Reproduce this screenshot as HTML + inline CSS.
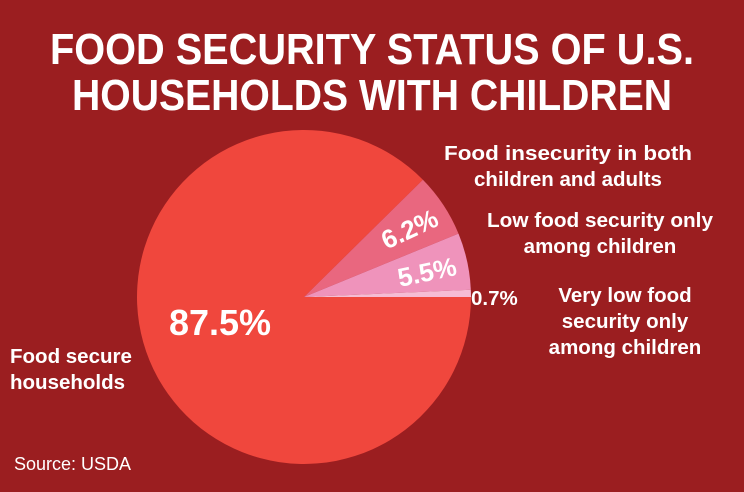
<!DOCTYPE html>
<html><head><style>
body{margin:0;width:744px;height:487px;background:#9b1e20;overflow:hidden;font-family:"Liberation Sans",sans-serif;}
</style></head><body>
<svg width="744" height="487" xmlns="http://www.w3.org/2000/svg">
<rect width="744" height="487" fill="#9b1e20"/>
<g font-family="Liberation Sans, sans-serif" font-weight="bold" fill="#fff">
<text x="372" y="64" font-size="44" text-anchor="middle" textLength="644" lengthAdjust="spacingAndGlyphs">FOOD SECURITY STATUS OF U.S.</text>
<text x="372" y="110" font-size="44" text-anchor="middle" textLength="600" lengthAdjust="spacingAndGlyphs">HOUSEHOLDS WITH CHILDREN</text>
</g>
<path d="M304,297 L422.9,179.7 A167,167 0 1 0 471,297 Z" fill="#f0473d"/>
<path d="M304,297 L458.5,233.6 A167,167 0 0 0 422.9,179.7 Z" fill="#e9677f"/>
<path d="M304,297 L470.8,289.7 A167,167 0 0 0 458.5,233.6 Z" fill="#ef93bb"/>
<path d="M304,297 L471,297 A167,167 0 0 0 470.8,289.7 Z" fill="#f6bcd4"/>
<g font-family="Liberation Sans, sans-serif" font-weight="bold" fill="#fff">
<text x="410" y="238" font-size="26" text-anchor="middle" transform="rotate(-25 410 230)">6.2%</text>
<text x="427" y="281" font-size="26" text-anchor="middle" transform="rotate(-12 427 272)">5.5%</text>
<text x="220" y="335" font-size="36" text-anchor="middle">87.5%</text>
<g font-size="20.5">
<text x="568" y="160" text-anchor="middle" textLength="248" lengthAdjust="spacingAndGlyphs">Food insecurity in both</text>
<text x="568" y="186" text-anchor="middle">children and adults</text>
<text x="600" y="227" text-anchor="middle" textLength="226" lengthAdjust="spacingAndGlyphs">Low food security only</text>
<text x="600" y="253" text-anchor="middle">among children</text>
<text x="471" y="305">0.7%</text>
<text x="625" y="302" text-anchor="middle">Very low food</text>
<text x="625" y="328" text-anchor="middle">security only</text>
<text x="625" y="354" text-anchor="middle">among children</text>
<text x="10" y="363">Food secure</text>
<text x="10" y="389">households</text>
</g>
</g>
<text x="14" y="470" font-family="Liberation Sans, sans-serif" font-size="18" fill="#fff">Source: USDA</text>
</svg>
</body></html>
